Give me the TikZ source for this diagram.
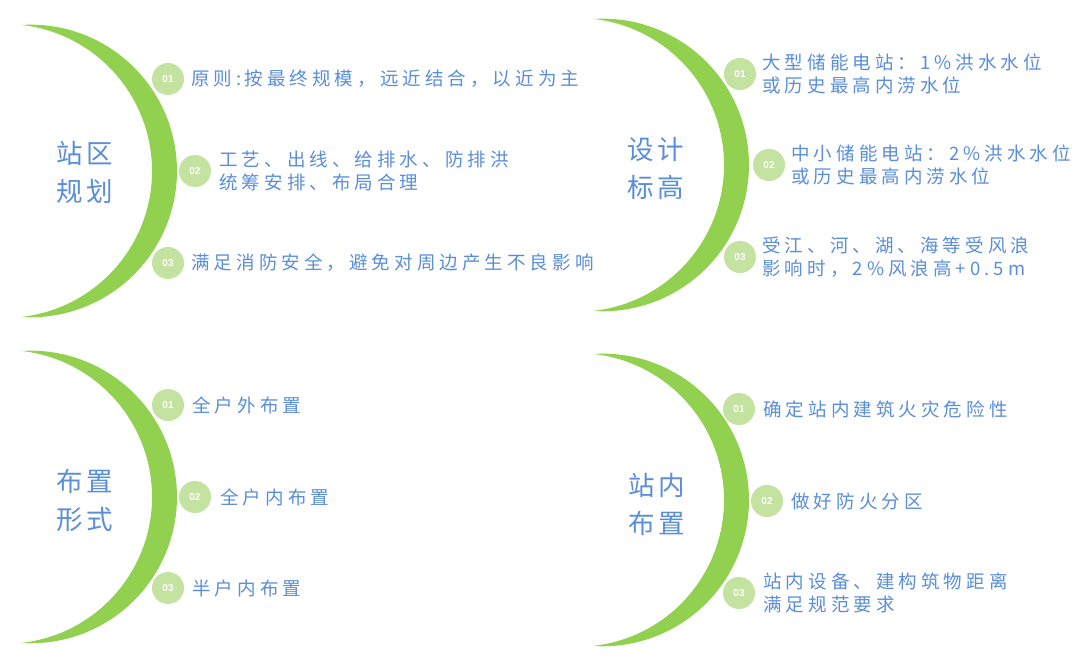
\documentclass[tikz,border=0pt]{standalone}
\usepackage{fontspec}
\setmainfont{Noto Sans CJK SC}
\newfontfamily\titlefont[LetterSpace=12]{Noto Sans CJK SC}
\newfontfamily\itemfont[LetterSpace=22]{Noto Sans CJK SC}
\newfontfamily\numfont{Liberation Sans}
\usetikzlibrary{positioning}
\definecolor{moongreen}{HTML}{92D050}
\definecolor{dotgreen}{HTML}{C4E2A0}
\definecolor{txtblue}{HTML}{5A8ED8}
\tikzset{moon/.style={fill=moongreen}}
\tikzset{dot/.style={circle, fill=dotgreen, minimum size=32pt, inner sep=0, text=white, font=\numfont\bfseries\fontsize{10}{10}\selectfont}}
\tikzset{item/.style={inner sep=0, align=left, text=txtblue, font=\itemfont\fontsize{18.5}{23}\selectfont}}
\tikzset{title/.style={inner sep=0, align=center, text=txtblue, font=\titlefont\fontsize{26.5}{38}\selectfont}}
% crescent: tip x, centre y
\newcommand{\drawmoon}[2]{\fill[moon] (#1,#2-146) arc[start angle=-93.8, end angle=93.8, radius=146.3] arc[start angle=83.8, end angle=-83.8, radius=146.9] -- cycle;}

\begin{document}
\begin{tikzpicture}[x=1pt, y=-1pt]
	\fill[white] (0,0) rectangle (1080,665);
	\useasboundingbox (0,0) rectangle (1080,665);
	
	\drawmoon{21}{171}
	\drawmoon{593}{165}
	\drawmoon{21}{497}
	\drawmoon{593}{500}
	
	\node[title] (A) at (85,172){站区\\规划};
	\node[title] (B) at (656,168){设计\\标高};
	\node[title] (C) at (85,500){布置\\形式};
	\node[title] (D) at (657,504){站内\\布置};
	
	\node[dot] (a1) at (168,79){01};
	\node[dot] (a2) at (195,171){02};
	\node[dot] (a3) at (168,263){03};
	\node[item, right=7pt of a1] (a1t){原则\hspace{4pt}:\hspace{3pt}按最终规模，远近结合，以近为主};
	\node[item, right=8pt of a2] (a2t){工艺、出线、给排水、防排洪\\统筹安排、布局合理};
	\node[item, right=7pt of a3] (a3t){满足消防安全，避免对周边产生不良影响};
	
	\node[dot] (b1) at (740,74){01};
	\node[dot] (b2) at (769,165){02};
	\node[dot] (b3) at (740,257){03};
	\node[item, right=6pt of b1] (b1t){大型储能电站：1\%洪水水位\\或历史最高内涝水位};
	\node[item, right=6pt of b2] (b2t){中小储能电站：2\%洪水水位\\或历史最高内涝水位};
	\node[item, right=6pt of b3] (b3t){受江、河、湖、海等受风浪\\影响时，2\%风浪高+0.5m};
	
	\node[dot] (c1) at (168,405){01};
	\node[dot] (c2) at (195,497){02};
	\node[dot] (c3) at (168,588){03};
	\node[item, right=8pt of c1] (c1t){全户外布置};
	\node[item, right=9pt of c2] (c2t){全户内布置};
	\node[item, right=8pt of c3] (c3t){半户内布置};
	
	\node[dot] (d1) at (739,409){01};
	\node[dot] (d2) at (767,501){02};
	\node[dot] (d3) at (739,593){03};
	\node[item, right=8pt of d1] (d1t){确定站内建筑火灾危险性};
	\node[item, right=8pt of d2] (d2t){做好防火分区};
	\node[item, right=8pt of d3] (d3t){站内设备、建构筑物距离\\满足规范要求};
\end{tikzpicture}
\end{document}
